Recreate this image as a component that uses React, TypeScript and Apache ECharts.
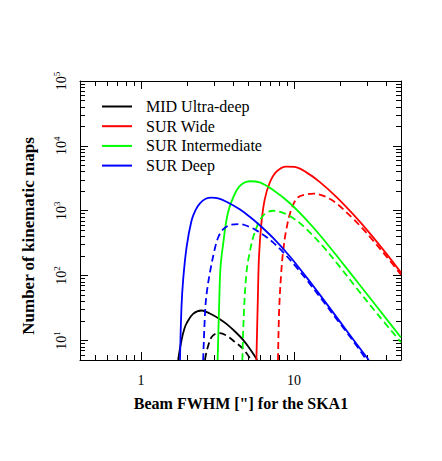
import React, { useEffect, useRef } from 'react';
import * as echarts from 'echarts';

const FONT = "'Liberation Serif', 'Times New Roman', serif";

const legendNames = ['MID Ultra-deep', 'SUR Wide', 'SUR Intermediate', 'SUR Deep'];
const legendColors = ['#000000', '#ff0000', '#00ff00', '#0000ff'];

// [beam FWHM ("), number of kinematic maps]
const midSolid = [[1.75, 5], [1.84, 10], [1.92, 15], [1.99, 18.5], [2.19, 25.7], [2.49, 29], [2.82, 26], [3.28, 21.3], [3.62, 18], [4.15, 13.5], [4.65, 10.2], [5.2, 7.2], [5.75, 5]];
const midDashed = [[2.62, 5], [2.68, 6.6], [2.78, 9], [2.89, 11.2], [3.05, 12.6], [3.28, 13], [3.6, 12], [4.0, 10], [4.65, 7.4], [5.25, 5]];
const wideSolid = [[5.68, 5], [5.8, 40], [5.91, 200], [6.13, 660], [6.44, 1500], [6.94, 2700], [7.68, 4000], [8.9, 4800], [10.1, 4750], [12.05, 3900], [14.7, 2790], [18.9, 1640], [24.3, 885], [31.2, 452], [40.1, 218], [50, 111]];
const wideDashed = [[7.86, 5], [8.0, 30], [8.25, 110], [8.48, 229], [8.92, 523], [9.62, 1060], [10.6, 1600], [12.05, 1780], [13.5, 1830], [14.7, 1775], [16.5, 1600], [18.9, 1306], [24.3, 757], [28, 533], [31.2, 400], [40.1, 198], [50, 103]];
const interSolid = [[3.17, 5], [3.24, 32], [3.31, 134], [3.44, 300], [3.71, 950], [4.21, 2050], [4.6, 2600], [5.14, 2850], [5.97, 2730], [7.3, 2090], [9.37, 1318], [12.05, 724], [14.7, 427], [20, 174], [26.5, 75], [35, 32.5], [50, 11.1]];
const interDashed = [[4.6, 5], [4.7, 25], [4.89, 110], [5.14, 230], [5.54, 464], [6.28, 840], [7.3, 1000], [8.48, 929], [10.1, 740], [12.05, 524], [15.46, 282], [20, 135], [25.5, 65], [35, 25.7], [50, 9.4]];
const deepSolid = [[1.8, 5], [1.84, 32], [1.89, 90], [1.99, 280], [2.14, 700], [2.27, 1014], [2.43, 1300], [2.65, 1528], [2.89, 1596], [3.2, 1556], [3.62, 1377], [4.42, 1054], [5.14, 807], [5.97, 598], [7.3, 381], [9.37, 199], [12.05, 94.6], [15.46, 43.8], [19.9, 19.7], [25.5, 9.0], [30.8, 5]];
const deepDashed = [[2.55, 5], [2.62, 25], [2.68, 50], [2.82, 110], [3.04, 260], [3.2, 390], [3.44, 515], [3.9, 610], [4.42, 620], [5.14, 562], [5.68, 498], [6.5, 405], [7.3, 325], [8.48, 230], [10.1, 145], [12.05, 87], [15.46, 40.6], [19.9, 18.4], [24, 10.3], [29.8, 5]];

const xMajorTicks = [1, 10];
const xMinorTicks = [0.5, 0.6, 0.7, 0.8, 0.9, 2, 3, 4, 5, 6, 7, 8, 9, 20, 30, 40, 50];
const yMajorTicks = [10, 100, 1000, 10000, 100000];
const yMinorTicks = [6, 7, 8, 9, 20, 30, 40, 50, 60, 70, 80, 90, 200, 300, 400, 500, 600, 700, 800, 900,
  2000, 3000, 4000, 5000, 6000, 7000, 8000, 9000, 20000, 30000, 40000, 50000, 60000, 70000, 80000, 90000];

const X_MIN = 0.4, X_MAX = 50, Y_MIN = 5, Y_MAX = 100000;

const GRID = { left: 80, top: 81, width: 321, height: 279 };

function makeX(gridIndex: number, position: string, ticks: number[], len: number, showLine: boolean, showLabel: boolean) {
  return {
    type: 'log', gridIndex, position, min: X_MIN, max: X_MAX,
    axisLine: { show: showLine, onZero: false, lineStyle: { color: '#000', width: 1 } },
    axisTick: { show: true, inside: true, length: len, customValues: ticks, lineStyle: { color: '#000', width: 1 } },
    axisLabel: showLabel ? {
      show: true, customValues: ticks, margin: 13, color: '#000', fontSize: 14, fontFamily: FONT,
      formatter: (v: number) => String(Math.round(v)),
    } : { show: false },
    splitLine: { show: false }, minorTick: { show: false },
  };
}

function makeY(gridIndex: number, position: string, ticks: number[], len: number, showLine: boolean, showLabel: boolean) {
  return {
    type: 'log', gridIndex, position, min: Y_MIN, max: Y_MAX,
    axisLine: { show: showLine, onZero: false, lineStyle: { color: '#000', width: 1 } },
    axisTick: { show: true, inside: true, length: len, customValues: ticks, lineStyle: { color: '#000', width: 1 } },
    axisLabel: showLabel ? {
      show: true, customValues: ticks, margin: 10, rotate: 90, color: '#000', fontSize: 14, fontFamily: FONT,
      lineHeight: 18,
      formatter: (v: number) => '10{sup|' + Math.round(Math.log10(v)) + '}',
      rich: { sup: { fontSize: 9, fontFamily: FONT, color: '#000', verticalAlign: 'top', lineHeight: 18 } },
    } : { show: false },
    splitLine: { show: false }, minorTick: { show: false },
  };
}

function line(name: string, data: number[][], color: string, dashed: boolean) {
  return {
    name, type: 'line', xAxisIndex: 0, yAxisIndex: 0, data, showSymbol: false, symbol: 'none',
    smooth: 0.35, clip: true,
    lineStyle: { color, width: 1.8, type: dashed ? [7, 4] : 'solid' },
  };
}

export default function App() {
  const ref = useRef<HTMLDivElement>(null);
  useEffect(() => {
    if (!ref.current) return;
    const chart = echarts.init(ref.current, undefined, { renderer: 'svg' });
    const legendGraphics: any[] = [];
    legendNames.forEach((n, i) => {
      const y = 106.5 + i * 19.7;
      legendGraphics.push({ type: 'line', shape: { x1: 102, y1: y, x2: 132, y2: y }, style: { stroke: legendColors[i], lineWidth: 2 } });
      legendGraphics.push({ type: 'text', x: 146, y, style: { text: n, font: `16px ${FONT}`, fill: '#000', textAlign: 'left', textVerticalAlign: 'middle' } });
    });
    chart.setOption({
      animation: false,
      backgroundColor: '#ffffff',
      grid: [
        { ...GRID, containLabel: false },
        { ...GRID, containLabel: false },
      ],
      xAxis: [
        makeX(0, 'bottom', xMajorTicks, 8, true, true),
        makeX(0, 'top', xMajorTicks, 8, true, false),
        makeX(1, 'bottom', xMinorTicks, 5, false, false),
        makeX(1, 'top', xMinorTicks, 5, false, false),
      ],
      yAxis: [
        makeY(0, 'left', yMajorTicks, 8, true, true),
        makeY(0, 'right', yMajorTicks, 8, true, false),
        makeY(1, 'left', yMinorTicks, 5, false, false),
        makeY(1, 'right', yMinorTicks, 5, false, false),
      ],
      series: [
        line('MID Ultra-deep', midSolid, legendColors[0], false),
        line('MID Ultra-deep (dashed)', midDashed, legendColors[0], true),
        line('SUR Wide', wideSolid, legendColors[1], false),
        line('SUR Wide (dashed)', wideDashed, legendColors[1], true),
        line('SUR Intermediate', interSolid, legendColors[2], false),
        line('SUR Intermediate (dashed)', interDashed, legendColors[2], true),
        line('SUR Deep', deepSolid, legendColors[3], false),
        line('SUR Deep (dashed)', deepDashed, legendColors[3], true),
      ],
      graphic: [
        ...legendGraphics,
        { type: 'text', x: 28, y: 236, rotation: Math.PI / 2, style: { text: 'Number of kinematic maps', font: `bold 17px ${FONT}`, fill: '#000', textAlign: 'center', textVerticalAlign: 'middle' } },
        { type: 'text', x: 241, y: 403, style: { text: 'Beam FWHM ["] for the SKA1', font: `bold 16px ${FONT}`, fill: '#000', textAlign: 'center', textVerticalAlign: 'middle' } },
      ],
    });
    return () => chart.dispose();
  }, []);
  return <div ref={ref} style={{ position: 'fixed', left: 0, top: 0, width: 442, height: 461, background: '#fff' }} />;
}
